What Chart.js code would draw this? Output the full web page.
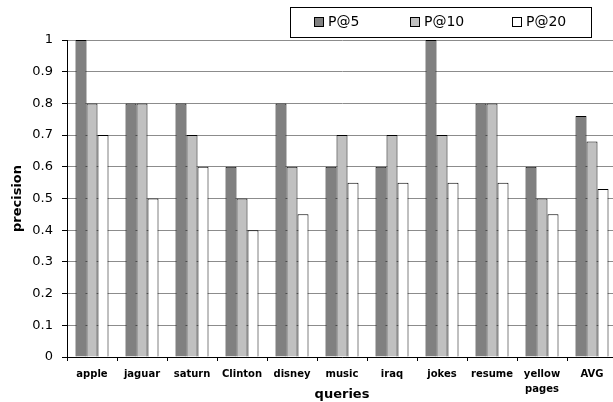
<!DOCTYPE html>
<html>
<head>
<meta charset="utf-8">
<script src="https://cdn.jsdelivr.net/npm/chart.js@4/dist/chart.umd.min.js"></script>
<style>
  html, body { margin: 0; padding: 0; background: #fff; overflow: hidden; }
  #wrap { width: 613px; height: 402px; overflow: hidden; }
</style>
</head>
<body>
<div id="wrap"><canvas id="grafico" width="620" height="402"></canvas></div>
<script>
// Dados
const consultas = ['apple', 'jaguar', 'saturn', 'Clinton', 'disney', 'music', 'iraq', 'jokes', 'resume', ['yellow', 'pages'], 'AVG'];
const p5 = [1, 0.8, 0.8, 0.6, 0.8, 0.6, 0.6, 1, 0.8, 0.6, 0.76];
const p10 = [0.8, 0.8, 0.7, 0.5, 0.6, 0.7, 0.7, 0.7, 0.8, 0.5, 0.68];
const p20 = [0.7, 0.5, 0.6, 0.4, 0.45, 0.55, 0.55, 0.55, 0.55, 0.45, 0.53];
const yTicks = [0, 0.1, 0.2, 0.3, 0.4, 0.5, 0.6, 0.7, 0.8, 0.9, 1];

const FONTE = 'DejaVu Sans, Verdana, sans-serif';

// Legenda com moldura (desenhada à mão)
const legendaBox = {
    id: 'legendaBox',
    afterDraw(chart) {
        const ctx = chart.ctx;
        const xs = [314, 410, 512];
        ctx.save();
        ctx.fillStyle = '#fff';
        ctx.fillRect(290.5, 7.5, 301, 30);
        ctx.strokeStyle = '#000';
        ctx.lineWidth = 1;
        ctx.strokeRect(290.5, 7.5, 301, 30);
        ctx.font = '14px ' + FONTE;
        ctx.textBaseline = 'middle';
        chart.data.datasets.forEach((ds, i) => {
            ctx.fillStyle = ds.backgroundColor;
            ctx.fillRect(xs[i] + 0.5, 17.5, 9, 9);
            ctx.strokeStyle = '#000';
            ctx.strokeRect(xs[i] + 0.5, 17.5, 9, 9);
            ctx.fillStyle = '#000';
            ctx.fillText(ds.label, xs[i] + 14, 22.5);
        });
        ctx.restore();
    }
};

const ctx = document.getElementById('grafico');
new Chart(ctx, {
    type: 'bar',
    data: {
        labels: consultas,
        datasets: [
            { label: 'P@5', data: p5, backgroundColor: '#808080', borderColor: '#000', borderWidth: 1 },
            { label: 'P@10', data: p10, backgroundColor: '#c0c0c0', borderColor: '#000', borderWidth: 1 },
            { label: 'P@20', data: p20, backgroundColor: '#ffffff', borderColor: '#000', borderWidth: 1 }
        ]
    },
    options: {
        responsive: false,
        animation: false,
        devicePixelRatio: 1,
        layout: { padding: { top: 40, right: 3, left: 0, bottom: 0 } },
        datasets: { bar: { barPercentage: 1, categoryPercentage: 0.66 } },
        plugins: { legend: { display: false }, tooltip: { enabled: false } },
        scales: {
            x: {
                grid: { drawOnChartArea: false, drawTicks: true, tickLength: 4, tickColor: '#000' },
                border: { color: '#000', width: 1 },
                ticks: { color: '#000', font: { family: FONTE, size: 10, weight: 'bold', lineHeight: 1.5 }, padding: 6, maxRotation: 0, autoSkip: false },
                title: { display: true, text: 'queries', color: '#000', font: { family: FONTE, size: 13, weight: 'bold' }, padding: { top: 0, bottom: 0 } },
                afterFit(scale) { scale.height = 45; }
            },
            y: {
                min: 0,
                max: 1,
                afterBuildTicks(scale) { scale.ticks = yTicks.map(v => ({ value: v })); },
                grid: { color: '#8c8c8c', tickColor: '#000', tickLength: 5 },
                border: { color: '#000', width: 1 },
                ticks: { color: '#000', font: { family: FONTE, size: 13 }, padding: 9, callback: v => String(v) },
                title: { display: true, text: 'precision', color: '#000', font: { family: FONTE, size: 13, weight: 'bold' }, padding: { top: 10, bottom: 0 } },
                afterFit(scale) { scale.width = 67; }
            }
        }
    },
    plugins: [legendaBox]
});
</script>
</body>
</html>
